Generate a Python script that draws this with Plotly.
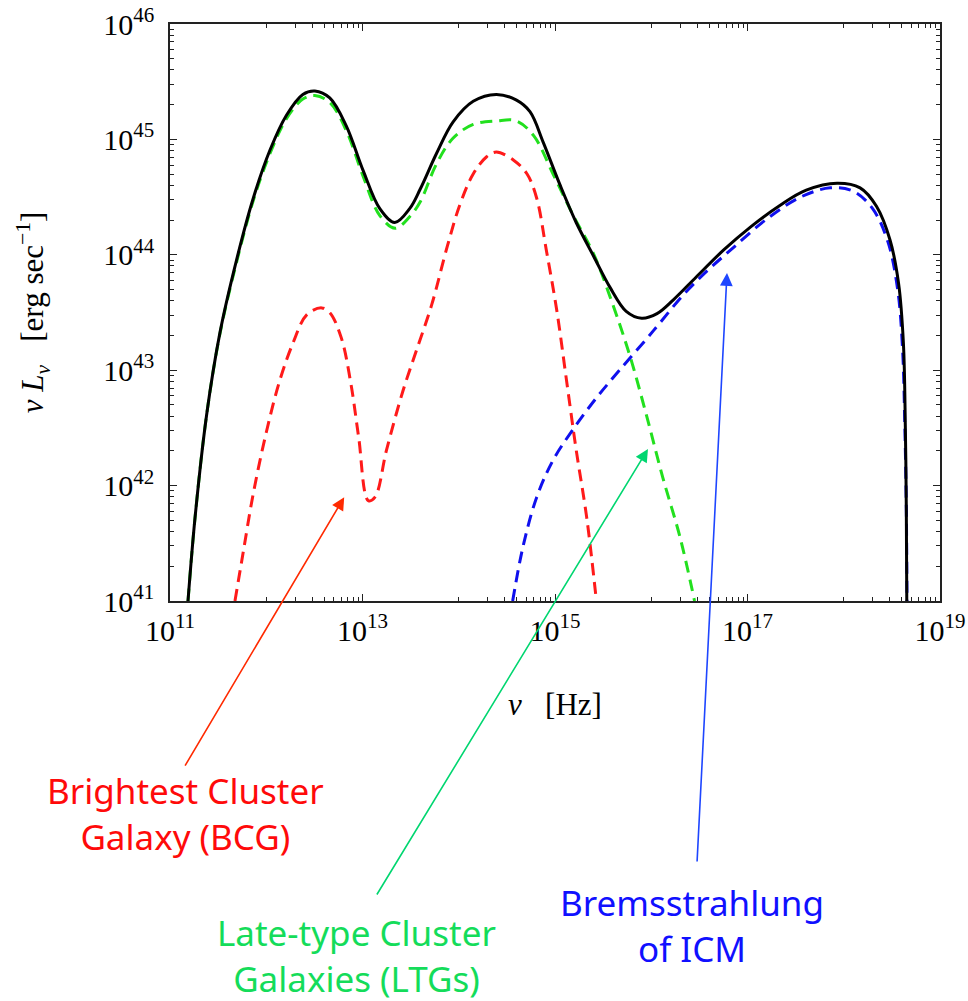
import numpy as np
import plotly.graph_objects as go

# ---- data (log10 of nu [Hz], log10 of nu L_nu [erg/s]) ----
total_lognu = [11.187, 11.26, 11.38, 11.52, 11.69, 11.865, 12.04, 12.21, 12.38, 12.505, 12.66, 12.83,
               13.007, 13.18, 13.336, 13.49, 13.60, 13.77, 13.94, 14.15, 14.39, 14.60, 14.74, 14.88,
               15.05, 15.22, 15.40, 15.57, 15.74, 15.90, 16.06, 16.23, 16.47, 16.75, 17.03, 17.34,
               17.61, 17.93, 18.17, 18.34, 18.48, 18.57, 18.62, 18.64, 18.65, 18.655]
total_logL = [41.0, 41.72, 42.61, 43.33, 43.95, 44.49, 44.91, 45.21, 45.39, 45.42, 45.36, 45.12,
              44.73, 44.40, 44.28, 44.40, 44.57, 44.88, 45.15, 45.33, 45.39, 45.34, 45.24, 44.97,
              44.61, 44.28, 43.99, 43.72, 43.51, 43.45, 43.49, 43.61, 43.81, 44.04, 44.24, 44.43,
              44.56, 44.62, 44.58, 44.42, 44.13, 43.75, 43.23, 42.5, 41.8, 41.0]

ltg_lognu = [11.187, 11.26, 11.38, 11.52, 11.69, 11.865, 12.04, 12.21, 12.38, 12.505, 12.66, 12.83,
             13.007, 13.18, 13.34, 13.49, 13.60, 13.77, 13.94, 14.15, 14.39, 14.60, 14.78, 14.98,
             15.19, 15.40, 15.60, 15.78, 15.95, 16.12, 16.30, 16.45]
ltg_logL = [41.0, 41.72, 42.61, 43.32, 43.93, 44.47, 44.88, 45.18, 45.35, 45.38, 45.32, 45.08,
            44.68, 44.34, 44.23, 44.33, 44.46, 44.79, 45.01, 45.13, 45.16, 45.16, 45.03, 44.70,
            44.34, 44.01, 43.57, 43.12, 42.61, 42.07, 41.55, 41.0]

bcg_lognu = [11.675, 11.76, 11.865, 12.0, 12.14, 12.28, 12.42, 12.575, 12.66, 12.78, 12.88, 12.96,
             13.06, 13.13, 13.25, 13.42, 13.56, 13.72, 13.88, 14.01, 14.15, 14.29, 14.39, 14.57,
             14.71, 14.81, 14.91, 15.02, 15.12, 15.22, 15.33, 15.43]
bcg_logL = [41.0, 41.42, 41.93, 42.46, 42.91, 43.24, 43.48, 43.54, 43.50, 43.28, 42.88, 42.42,
            41.87, 41.9, 42.31, 42.82, 43.17, 43.57, 44.07, 44.43, 44.70, 44.85, 44.89, 44.82,
            44.70, 44.49, 44.04, 43.51, 42.91, 42.31, 41.72, 41.0]

icm_lognu = [14.56, 14.67, 14.81, 14.98, 15.19, 15.43, 15.67, 15.95, 16.09, 16.33, 16.58, 16.85,
             17.20, 17.55, 17.86, 18.10, 18.30, 18.46, 18.56, 18.61, 18.635, 18.65, 18.657]
icm_logL = [41.0, 41.48, 41.90, 42.22, 42.49, 42.76, 43.0, 43.27, 43.41, 43.65, 43.86, 44.06,
            44.31, 44.50, 44.58, 44.55, 44.40, 44.11, 43.70, 43.2, 42.5, 41.8, 41.0]

x_major_exp = [11, 13, 15, 17, 19]
y_major_exp = [41, 42, 43, 44, 45, 46]

SERIF = "Liberation Serif, Times New Roman, serif"
HAND = "Comic Sans MS, Noto Sans, sans-serif"

fig = go.Figure()

def add_curve(lx, ly, color, dash, width):
    fig.add_trace(go.Scatter(
        x=np.power(10.0, lx), y=np.power(10.0, ly), mode="lines",
        line=dict(color=color, width=width, dash=dash, shape="spline", smoothing=1.0),
        hoverinfo="skip", showlegend=False))

add_curve(bcg_lognu, bcg_logL, "#ff1a1a", "12px,7px", 3)
add_curve(ltg_lognu, ltg_logL, "#22e01e", "12px,7px", 3)
add_curve(icm_lognu, icm_logL, "#1010ee", "12px,7px", 3)
add_curve(total_lognu, total_logL, "#000000", "solid", 3)

x_minor = [k * 10.0 ** e for e in (12, 14, 16, 18) for k in range(1, 10)]
y_minor = [k * 10.0 ** e for e in (41, 42, 43, 44, 45) for k in range(2, 10)]

axis_common = dict(
    type="log", showgrid=False, zeroline=False, showline=True, linecolor="#222",
    linewidth=1.5, mirror="allticks", ticks="inside", ticklen=7, tickwidth=1.2,
    tickcolor="#222", tickfont=dict(family=SERIF, size=30, color="black"),
)

fig.update_xaxes(
    **axis_common, range=[11, 19], tickmode="array",
    tickvals=[10.0 ** e for e in x_major_exp],
    ticktext=[f"10<sup>{e}</sup>" for e in x_major_exp],
    minor=dict(tickmode="array", tickvals=x_minor, ticks="inside", ticklen=4,
               tickwidth=1, tickcolor="#222"),
    ticklabelstandoff=2,
    title=dict(text="<i>ν</i>\u00a0\u00a0\u00a0[Hz]", font=dict(family=SERIF, size=31, color="black"),
               standoff=48),
)
fig.update_yaxes(
    **axis_common, range=[41, 46], tickmode="array",
    tickvals=[10.0 ** e for e in y_major_exp],
    ticktext=[f"10<sup>{e}</sup>" for e in y_major_exp],
    minor=dict(tickmode="array", tickvals=y_minor, ticks="inside", ticklen=4,
               tickwidth=1, tickcolor="#222"),
    ticklabelstandoff=8,
    title=dict(text="<i>ν L</i><sub><i>ν</i></sub>\u00a0\u00a0\u00a0[erg sec<sup>−1</sup>]",
               font=dict(family=SERIF, size=31, color="black"), standoff=50),
)

W, H = 968, 1001
L, R, T, B = 170, 28, 24, 400
pw, ph = W - L - R, H - T - B

def px2paper(px, py):
    return (px - L) / pw, (H - B - py) / ph

# arrows (tip in data coordinates, tail offset in pixels)
arrows = [
    (12.81, 41.90, -160, 270, "#ff2a00"),
    (15.966, 42.317, -272, 447, "#00d670"),
    (16.787, 43.842, -30, 590, "#1e46ff"),
]
for ex, ey, axp, ayp, col in arrows:
    fig.add_annotation(x=ex, y=ey, xref="x", yref="y", text="", showarrow=True,
                       ax=axp, ay=ayp, arrowhead=2, arrowsize=1.6, arrowwidth=1.6,
                       arrowcolor=col)

labels = [
    ("Brightest Cluster<br>Galaxy (BCG)", 185, 813, "#ff0a0a"),
    ("Late-type Cluster<br>Galaxies (LTGs)", 356, 955, "#14dc5a"),
    ("Bremsstrahlung<br>of ICM", 692, 925, "#1010ff"),
]
for txt, px, py, col in labels:
    xp, yp = px2paper(px, py)
    fig.add_annotation(x=xp, y=yp, xref="paper", yref="paper", text=txt, showarrow=False,
                       font=dict(family=HAND, size=35, color=col), align="center",
                       xanchor="center", yanchor="middle")

fig.update_layout(
    width=W, height=H, margin=dict(l=L, r=R, t=T, b=B, autoexpand=False),
    paper_bgcolor="white", plot_bgcolor="white", showlegend=False,
)

fig.write_html("out.html")
